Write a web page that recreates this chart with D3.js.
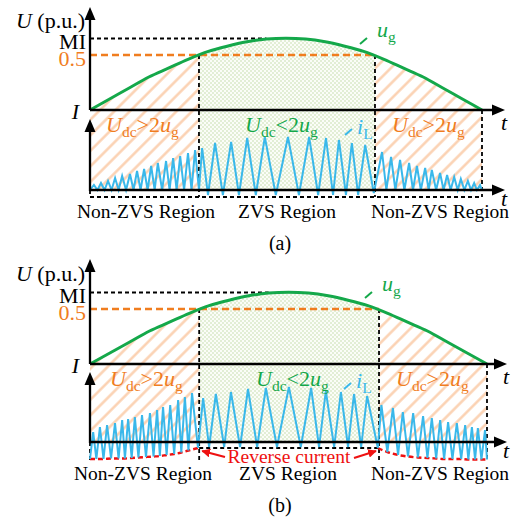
<!DOCTYPE html>
<html><head><meta charset="utf-8">
<script src="https://cdn.jsdelivr.net/npm/d3@7"></script>
<style>html,body{margin:0;padding:0;background:#fff;} svg{display:block;}</style>
</head><body><svg id="chart" width="516" height="518" font-family="'Liberation Serif','Times New Roman',serif"></svg>
<script>
// ---------------- data (time in % of the half line cycle) ----------------
const ugT    = [0,5,10,15,20,25,30,35,40,45,50,55,60,65,70,75,80,85,90,95,100];
const ugVals = [0,0.10,0.20,0.30,0.38,0.46,0.53,0.58,0.62,0.645,0.653,0.645,0.62,0.58,0.53,0.46,0.38,0.30,0.20,0.10,0];
const MI = 0.65;
const halfLevel = 0.5;
const yTickLabels = ["MI", "0.5"];
const regionLabels = ["Non-ZVS Region", "ZVS Region", "Non-ZVS Region"];
const captions = ["(a)", "(b)"];
const reverseLabel = "Reverse current";
const zvsBoundsA = [27.8, 72.7];
const zvsBoundsB = [27.5, 72.8];

// inductor current iL, panel (a): triangle vertices
const iLaT = [0,1.0,1.9,2.8,3.7,4.6,5.5,6.4,7.3,8.2,9.2,10.2,11.1,12.0,12.9,13.8,14.7,15.6,16.5,17.3,18.4,19.4,20.3,21.2,22.1,23.0,24.0,25.0,25.9,26.8,27.8,
  28.6,30.1,31.9,33.9,36.0,38.0,40.1,42.3,44.6,47.4,50.5,53.3,55.9,58.2,60.2,62.0,63.5,65.3,66.8,68.4,70.2,72.4,
  74.5,75.6,76.8,77.9,79.1,80.2,81.4,82.4,83.4,84.4,85.5,86.4,87.2,88.3,89.3,90.2,91.1,92.0,92.9,93.8,94.6,95.5,96.4,97.2,98.0,98.7,99.5,100];
const iLaV = [0,0.10,0,0.14,0,0.18,0,0.24,0,0.28,0,0.32,0,0.38,0,0.42,0,0.48,0,0.54,0,0.58,0,0.64,0,0.68,0,0.74,0,0.80,0,
  0.84,-0.1,0.94,-0.1,0.96,-0.1,1.04,-0.1,1.06,-0.1,1.06,-0.1,1.06,-0.1,1.04,-0.1,1.0,-0.1,0.94,-0.1,0.9,-0.06,
  0.76,0,0.66,0,0.60,0,0.54,0,0.48,0,0.44,0,0.40,0,0.34,0,0.30,0,0.26,0,0.22,0,0.18,0,0.14,0,0.10,0];

// inductor current iL, panel (b): with reverse current in non-ZVS regions
const iLbT = [0,0.8,1.6,2.5,3.4,4.3,5.3,6.3,7.2,8.1,8.8,9.6,10.5,11.3,12.2,13.1,14.1,15.1,16.0,16.9,17.6,18.4,19.3,20.2,21.2,22.2,23.0,23.9,24.8,25.7,27.2,
  28.5,30.0,31.7,33.8,35.5,37.8,39.8,42.1,44.3,47.1,50.1,53.1,55.7,57.7,59.4,61.5,63.2,65.0,66.5,68.3,69.8,72.5,
  73.4,74.9,76.3,77.6,78.8,80.1,81.4,82.6,83.9,85.0,86.1,87.2,88.2,89.2,90.2,91.3,92.4,93.5,94.5,95.3,96.2,97.0,97.7,98.6,99.5,100];
const iLbV = [-0.34,0.20,-0.34,0.30,-0.34,0.34,-0.33,0.38,-0.33,0.44,-0.33,0.46,-0.32,0.50,-0.31,0.54,-0.30,0.58,-0.29,0.64,-0.28,0.70,-0.26,0.74,-0.24,0.84,-0.21,0.90,-0.17,0.98,-0.12,
  0.88,-0.1,0.96,-0.1,1.0,-0.1,1.06,-0.1,1.08,-0.1,1.1,-0.1,1.08,-0.1,1.02,-0.1,1.0,-0.1,0.96,-0.1,0.92,-0.12,
  0.74,-0.20,0.68,-0.26,0.60,-0.29,0.58,-0.31,0.52,-0.32,0.48,-0.33,0.44,-0.34,0.40,-0.34,0.38,-0.34,0.34,-0.35,0.30,-0.35,0.28,-0.35,0.24,-0.35];

// ---------------- styling ----------------
const C = {green:"#14a84a", orange:"#f07d1f", blue:"#3ab8ea", red:"#ee1111", black:"#000",
           hatch:"#fbcfae", dot:"#c2dcaa", dotBg:"#fbfdf8"};
const FF = "'Liberation Serif','Times New Roman',serif";
const FONT = 22, SUB = 15.5, REG = 19.5;

const svg = d3.select("#chart");
const defs = svg.append("defs");
const hatch = defs.append("pattern").attr("id","hatch").attr("patternUnits","userSpaceOnUse")
  .attr("width",11).attr("height",11).attr("patternTransform","rotate(45)");
hatch.append("rect").attr("width",11).attr("height",11).attr("fill","#fff");
hatch.append("line").attr("x1",5.5).attr("y1",0).attr("x2",5.5).attr("y2",11)
  .attr("stroke",C.hatch).attr("stroke-width",2.4);
const dots = defs.append("pattern").attr("id","dots").attr("patternUnits","userSpaceOnUse")
  .attr("width",4).attr("height",4);
dots.append("rect").attr("width",4).attr("height",4).attr("fill",C.dotBg);
dots.append("circle").attr("cx",1).attr("cy",1).attr("r",0.8).attr("fill",C.dot);
dots.append("circle").attr("cx",3).attr("cy",3).attr("r",0.8).attr("fill",C.dot);
defs.append("marker").attr("id","redArrow").attr("viewBox","0 0 10 10").attr("refX",9).attr("refY",5)
  .attr("markerWidth",4).attr("markerHeight",4).attr("orient","auto-start-reverse")
  .append("path").attr("d","M0,0 L10,5 L0,10 Z").attr("fill",C.red);

function rich(g, x, y, parts, color, anchor, size) {
  size = size || FONT;
  const t = g.append("text").attr("x",x).attr("y",y).attr("font-size",size).attr("font-family",FF)
    .attr("fill",color).attr("text-anchor",anchor||"start");
  let shifted = false;
  parts.forEach(p => {
    const s = t.append("tspan").text(p.t);
    if (p.i) s.attr("font-style","italic");
    if (p.sub) { s.attr("font-size",SUB); if (!shifted) { s.attr("dy",5); shifted = true; } }
    else if (shifted) { s.attr("dy",-5); shifted = false; }
  });
  return t;
}

const panels = [
  {x0:90, x1:482, arrowX:505, uZero:110, uTip:7, iZero:190, iTip:119, dashBottom:197, bottomDashI:-0.14,
   uLabelY:28, regionY:218, regionX:[146,287,440], captionY:250, caption:captions[0],
   condX:[106,245,392], ugLabelX:377, iLLabelX:357, bounds:zvsBoundsA, T:iLaT, V:iLaV, reverse:false},
  {x0:90, x1:487, arrowX:507, uZero:364, uTip:259, iZero:442, iTip:372, dashBottom:461, bottomDashI:-0.12,
   uLabelY:281, regionY:480, regionX:[143,288,440], captionY:512, caption:captions[1],
   condX:[110,256,396], ugLabelX:382, iLLabelX:356, bounds:zvsBoundsB, T:iLbT, V:iLbV, reverse:true}
];

panels.forEach((P, pi) => {
  const g = svg.append("g");
  const x = d3.scaleLinear().domain([0,100]).range([P.x0, P.x1]);
  const yU = d3.scaleLinear().domain([0, halfLevel]).range([P.uZero, P.uZero - 55]);
  const yI = d3.scaleLinear().domain([0, 1]).range([P.iZero, P.iZero - 50]);
  const ug = ugT.map((t,i) => ({t, v: ugVals[i]}));
  const iL = P.T.map((t,i) => ({t, v: P.V[i]}));
  const xb0 = x(P.bounds[0]), xb1 = x(P.bounds[1]);

  // region fills (under u_g down to lower axis)
  const area = d3.area().x(d => x(d.t)).y0(P.iZero).y1(d => yU(d.v)).curve(d3.curveMonotoneX);
  const regions = [[P.x0, xb0, "url(#hatch)"], [xb0, xb1, "url(#dots)"], [xb1, P.x1, "url(#hatch)"]];
  regions.forEach((r, ri) => {
    const id = `clip${pi}_${ri}`;
    defs.append("clipPath").attr("id", id).append("rect")
      .attr("x", r[0]).attr("y", 0).attr("width", r[1]-r[0]).attr("height", P.iZero);
    g.append("path").datum(ug).attr("d", area).attr("fill", r[2]).attr("clip-path", `url(#${id})`);
  });

  // reference dashed lines
  const miEnd = ug.find(d => d.v >= MI - 0.01).t;
  g.append("line").attr("x1",P.x0).attr("x2",x(miEnd)).attr("y1",yU(MI)).attr("y2",yU(MI))
    .attr("stroke",C.black).attr("stroke-width",1.8).attr("stroke-dasharray","4,3");
  g.append("line").attr("x1",P.x0).attr("x2",xb1).attr("y1",yU(halfLevel)).attr("y2",yU(halfLevel))
    .attr("stroke",C.orange).attr("stroke-width",2.6).attr("stroke-dasharray","7,4");
  const vdash = [[xb0, yU(halfLevel)], [xb1, yU(halfLevel)], [P.x1, P.uZero], [P.x0, P.iZero]];
  vdash.forEach(v => g.append("line").attr("x1",v[0]).attr("x2",v[0]).attr("y1",v[1]).attr("y2",P.dashBottom)
    .attr("stroke",C.black).attr("stroke-width",1.8).attr("stroke-dasharray","4,3"));
  if (!P.reverse) {
    g.append("line").attr("x1",P.x0).attr("x2",P.x1).attr("y1",P.dashBottom).attr("y2",P.dashBottom)
      .attr("stroke",C.black).attr("stroke-width",1.8).attr("stroke-dasharray","4,3");
  } else {
    g.append("line").attr("x1",xb0).attr("x2",xb1).attr("y1",yI(P.bottomDashI)).attr("y2",yI(P.bottomDashI))
      .attr("stroke",C.black).attr("stroke-width",1.8).attr("stroke-dasharray","4,3");
    // reverse-current envelope
    const env = d3.line().x(d => x(d.t)).y(d => yI(d.v)).curve(d3.curveMonotoneX);
    const left = iL.filter((d,i) => d.t <= P.bounds[0] && (i % 2 === 0));
    const right = iL.filter(d => d.t >= P.bounds[1] - 0.5 && d.v < 0);
    [left, right].forEach(seg => g.append("path").datum(seg).attr("d", env).attr("fill","none")
      .attr("stroke",C.red).attr("stroke-width",2.4).attr("stroke-dasharray","5,3"));
  }

  // iL waveform
  g.append("path").datum(iL)
    .attr("d", d3.line().x(d => x(d.t)).y(d => yI(d.v)))
    .attr("fill","none").attr("stroke",C.blue).attr("stroke-width",2).attr("stroke-linejoin","miter");

  // ug curve
  g.append("path").datum(ug)
    .attr("d", d3.line().x(d => x(d.t)).y(d => yU(d.v)).curve(d3.curveMonotoneX))
    .attr("fill","none").attr("stroke",C.green).attr("stroke-width",3);

  // axes
  const ax = g.append("g").attr("stroke",C.black).attr("stroke-width",2.3);
  ax.append("line").attr("x1",P.x0).attr("x2",P.x0).attr("y1",P.uZero).attr("y2",P.uTip+8);
  ax.append("line").attr("x1",P.x0).attr("x2",P.arrowX-8).attr("y1",P.uZero).attr("y2",P.uZero);
  ax.append("line").attr("x1",P.x0).attr("x2",P.x0).attr("y1",P.iZero+1).attr("y2",P.iTip+8);
  ax.append("line").attr("x1",P.x0).attr("x2",P.arrowX-8).attr("y1",P.iZero).attr("y2",P.iZero);
  const heads = [
    `M${P.x0},${P.uTip} L${P.x0-5.5},${P.uTip+13} L${P.x0+5.5},${P.uTip+13} Z`,
    `M${P.x0},${P.iTip} L${P.x0-5.5},${P.iTip+13} L${P.x0+5.5},${P.iTip+13} Z`,
    `M${P.arrowX},${P.uZero} L${P.arrowX-13},${P.uZero-5.5} L${P.arrowX-13},${P.uZero+5.5} Z`,
    `M${P.arrowX},${P.iZero} L${P.arrowX-13},${P.iZero-5.5} L${P.arrowX-13},${P.iZero+5.5} Z`];
  heads.forEach(d => g.append("path").attr("d", d).attr("fill", C.black));

  // axis labels
  rich(g, 85, P.uLabelY, [{t:"U",i:true},{t:" (p.u.)"}], C.black, "end");
  rich(g, 86, yU(MI)+10, [{t:yTickLabels[0]}], C.black, "end");
  rich(g, 86, yU(halfLevel)+11, [{t:yTickLabels[1]}], C.orange, "end");
  rich(g, 79, P.uZero+9, [{t:"I",i:true}], C.black, "end");
  rich(g, P.arrowX-4, P.uZero+20, [{t:"t",i:true}], C.black, "start");
  rich(g, P.arrowX-4, P.iZero+16, [{t:"t",i:true}], C.black, "start");

  // condition labels
  const condY = P.uZero + 22;
  rich(g, P.condX[0], condY, [{t:"U",i:true},{t:"dc",sub:true},{t:">2"},{t:"u",i:true},{t:"g",sub:true}], C.orange);
  rich(g, P.condX[1], condY, [{t:"U",i:true},{t:"dc",sub:true},{t:"<2"},{t:"u",i:true},{t:"g",sub:true}], C.green);
  rich(g, P.condX[2], condY, [{t:"U",i:true},{t:"dc",sub:true},{t:">2"},{t:"u",i:true},{t:"g",sub:true}], C.orange);

  // iL label + leader
  const iLy = P.uZero + 24;
  rich(g, P.iLLabelX, iLy, [{t:"i",i:true},{t:"L",sub:true}], C.blue);
  g.append("line").attr("x1",P.iLLabelX-12).attr("y1",iLy+1).attr("x2",P.iLLabelX-5).attr("y2",iLy-5)
    .attr("stroke",C.blue).attr("stroke-width",2);
  // ug label + leader
  const ugy = P.uZero - 73;
  rich(g, P.ugLabelX, ugy, [{t:"u",i:true},{t:"g",sub:true}], C.green);
  g.append("line").attr("x1",P.ugLabelX-17).attr("y1",ugy+7).attr("x2",P.ugLabelX-10).attr("y2",ugy+1)
    .attr("stroke",C.green).attr("stroke-width",2);

  // region labels
  regionLabels.forEach((r, ri) => g.append("text").attr("x",P.regionX[ri]).attr("y",P.regionY)
    .attr("text-anchor","middle").attr("font-size",REG).attr("font-family",FF).attr("fill",C.black).text(r));

  if (P.reverse) {
    const ry = yI(P.bottomDashI);
    g.append("text").attr("x",289).attr("y",ry+15).attr("text-anchor","middle").attr("font-family",FF)
      .attr("font-size",REG).attr("fill",C.red).text(reverseLabel);
    g.append("line").attr("x1",225).attr("y1",ry+9).attr("x2",xb0+3).attr("y2",ry+3)
      .attr("stroke",C.red).attr("stroke-width",2.2).attr("marker-end","url(#redArrow)");
    g.append("line").attr("x1",354).attr("y1",ry+10).attr("x2",xb1-3).attr("y2",ry+3)
      .attr("stroke",C.red).attr("stroke-width",2.2).attr("marker-end","url(#redArrow)");
  }

  g.append("text").attr("x",280).attr("y",P.captionY).attr("text-anchor","middle").attr("font-family",FF)
    .attr("font-size",20).attr("fill",C.black).text(P.caption);
});
</script></body></html>
